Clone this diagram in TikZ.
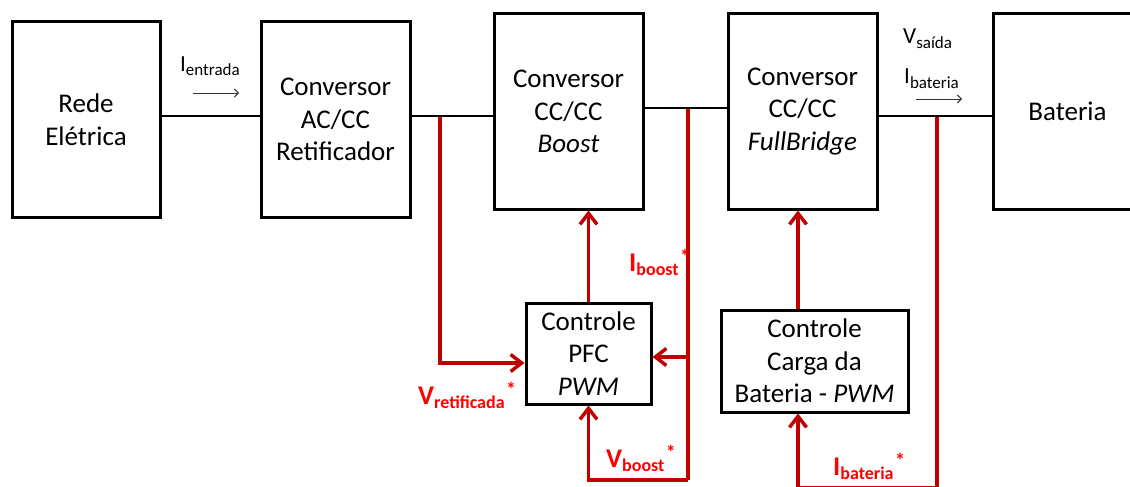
\documentclass[tikz,border=0pt]{standalone}
\usepackage{fontspec}
\setmainfont{Carlito}
\usetikzlibrary{arrows.meta}
\definecolor{wirered}{HTML}{C00000}
\definecolor{textred}{HTML}{FF0000}

% quantity with subscript (black, regular)
\newcommand{\qty}[2]{{\fontsize{23}{23}\selectfont #1}\raisebox{-4.5pt}{\fontsize{17}{17}\selectfont #2}}
% reference quantity with subscript and asterisk (red, bold)
\newcommand{\refqty}[2]{\bfseries{\fontsize{27}{27}\selectfont #1}\raisebox{-4.5pt}{\fontsize{18}{18}\selectfont #2}\raisebox{7.5pt}{\fontsize{20}{20}\selectfont\kern1.5pt*}}

\begin{document}
\begin{tikzpicture}[x=1pt,y=-1pt,
  block/.style={draw=black, line width=3pt, fill=white, align=center, inner sep=0pt,
                font=\fontsize{27}{32.5}\selectfont},
  wire/.style={draw=black, line width=2.6pt},
  fb/.style={draw=wirered, line width=3.5pt},
  fbarrow/.style={fb, -{Straight Barb[length=11pt,width=17pt]}},
  flow/.style={draw=black!80, line width=1pt, -{Straight Barb[length=4pt,width=8pt]}},
  lbl/.style={anchor=base west, inner sep=0pt},
  reflbl/.style={lbl, text=textred},
]
\useasboundingbox (0,0) rectangle (1130,487);
\clip (0,0) rectangle (1130,487);

% power stage blocks
\node[block, minimum width=148pt, minimum height=195pt] (grid) at (86,119.5) {Rede\\Elétrica};
\node[block, minimum width=149pt, minimum height=195pt] (rect) at (335.5,119.5) {Conversor\\AC/CC\\Retificador};
\node[block, minimum width=149pt, minimum height=195pt] (boost) at (568.5,111.5) {Conversor\\CC/CC\\\textit{Boost}};
\node[block, minimum width=149pt, minimum height=195pt] (fb) at (802.5,111.5) {Conversor\\CC/CC\\\textit{FullBridge}};
\node[block, minimum width=149pt, minimum height=195pt] (bat) at (1067.5,111.5) {Bateria};

% control blocks
\node[block, minimum width=125pt, minimum height=101pt] (pfc) at (588.5,353.5) {Controle\\PFC\\\textit{PWM}};
\node[block, minimum width=187pt, minimum height=102pt] (chg) at (814.5,361) {Controle\\Carga da\\Bateria - \textit{PWM}};

% measurement taps on the power path
\coordinate (tapR) at (440,116);
\coordinate (tapB) at (688,108);
\coordinate (tapO) at (937,116);
\coordinate (iB) at (688,357);
\coordinate (botB) at (688,480);
\coordinate (botO) at (937,488);

% feedback paths
\draw[fbarrow] (tapR) |- ([yshift=-9.5pt]pfc.west);
\draw[fbarrow] (pfc.north) -- (pfc.north |- boost.south);
\draw[fb] (tapB) -- (botB);
\draw[fbarrow] (iB) -- (pfc.east |- iB);
\draw[fbarrow] (botB) -| (pfc.south);
\draw[fbarrow] ([xshift=-16.5pt]chg.north) -- ([xshift=-16.5pt]chg.north |- fb.south);
\draw[fb] (tapO) -- (botO);
\draw[fbarrow] (botO) -| ([xshift=-16.5pt]chg.south);

% power path
\draw[wire] (grid.east |- tapR) -- (rect.west |- tapR);
\draw[wire] (rect.east |- tapR) -- (boost.west |- tapR);
\draw[wire] (boost.east |- tapB) -- (fb.west |- tapB);
\draw[wire] (fb.east |- tapO) -- (bat.west |- tapO);

% current direction marks
\coordinate (inA) at (193,93);
\coordinate (inB) at (239,93);
\coordinate (outA) at (916,99);
\coordinate (outB) at (962,99);
\draw[flow] (inA) -- (inB);
\draw[flow] (outA) -- (outB);

% quantity labels
\node[lbl] (lin) at (180,71) {\qty{I}{entrada}};
\node[lbl] (lvout) at (903,44) {\qty{V}{saída}};
\node[lbl] (liout) at (904,84) {\qty{I}{bateria}};

\node[reflbl] (rib) at (629,271) {\refqty{I}{boost}};
\node[reflbl] (rvr) at (418,404) {\refqty{V}{retificada}};
\node[reflbl] (rvb) at (606,467) {\refqty{V}{boost}};
\node[reflbl] (rbat) at (833,475) {\refqty{I}{bateria}};
\end{tikzpicture}
\end{document}
